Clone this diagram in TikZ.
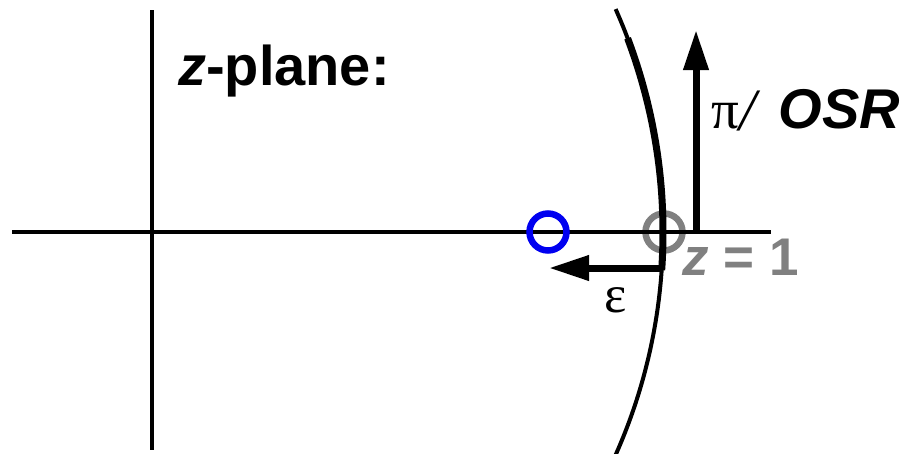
\documentclass[tikz,border=0pt]{standalone}
\usepackage{fontspec}
\setmainfont{Liberation Sans}
\newfontfamily\serifgreek{Liberation Serif}
\usetikzlibrary{arrows.meta}
\definecolor{zgray}{HTML}{808080}
\definecolor{zblue}{HTML}{0000F0}
\tikzset{
  axis/.style={line width=3.2pt},
  thinarc/.style={line width=4pt},
  thickarc/.style={line width=7pt},
  bigarrow/.style={line width=7pt,-{Triangle[length=40pt,width=24pt]}},
  ring/.style={circle,inner sep=0pt,minimum size=37pt,line width=6.5pt},
  label/.style={inner sep=0pt,anchor=base west}
}
\begin{document}
\begin{tikzpicture}[x=1pt,y=-1pt]
\useasboundingbox (0,0) rectangle (920,453);
% unit-circle point z = 1
\node[ring,draw=zgray] (zone) at (664,232) {};
% axes
\coordinate (xl) at (12,232);
\coordinate (xr) at (771,232);
\coordinate (yt) at (152,10);
\coordinate (yb) at (152,450);
\draw[axis] (xl) -- (xr);
\draw[axis] (yt) -- (yb);
% unit circle arc (centre (115,232), radius 548)
\coordinate (cc) at (115,232);
\draw[thinarc] ([shift={(24:548)}]cc) arc[start angle=24,end angle=-24,radius=548];
\draw[thickarc] ([shift={(-20.7:548)}]cc) arc[start angle=-20.7,end angle=4,radius=548];
% pole
\node[ring,draw=zblue] (pole) at (548,232) {};
% arrows
\coordinate (vb) at (696,233);
\coordinate (vt) at (696,30);
\draw[bigarrow] (vb) -- (vt);
\coordinate (eb) at (663,268);
\coordinate (et) at (549,268);
\draw[bigarrow] (eb) -- (et);
% texts
\node[label] (title) at (178,85) {\fontsize{56}{60}\selectfont\bfseries\itshape z\upshape-plane:};
\node[label] (osr) at (711,128) {{\fontsize{55}{60}\selectfont\serifgreek π\hspace{1pt}\raisebox{-2pt}{\fontsize{60}{60}\selectfont\itshape /}}\hspace{22pt}{\fontsize{56}{60}\selectfont\bfseries\itshape OSR}};
\node[label,text=zgray] (zlab) at (682,275) {\fontsize{53}{60}\selectfont\bfseries\itshape z\upshape{} = 1};
\node[label] (eps) at (604,312) {\fontsize{53}{60}\selectfont\serifgreek ε};
\end{tikzpicture}
\end{document}
